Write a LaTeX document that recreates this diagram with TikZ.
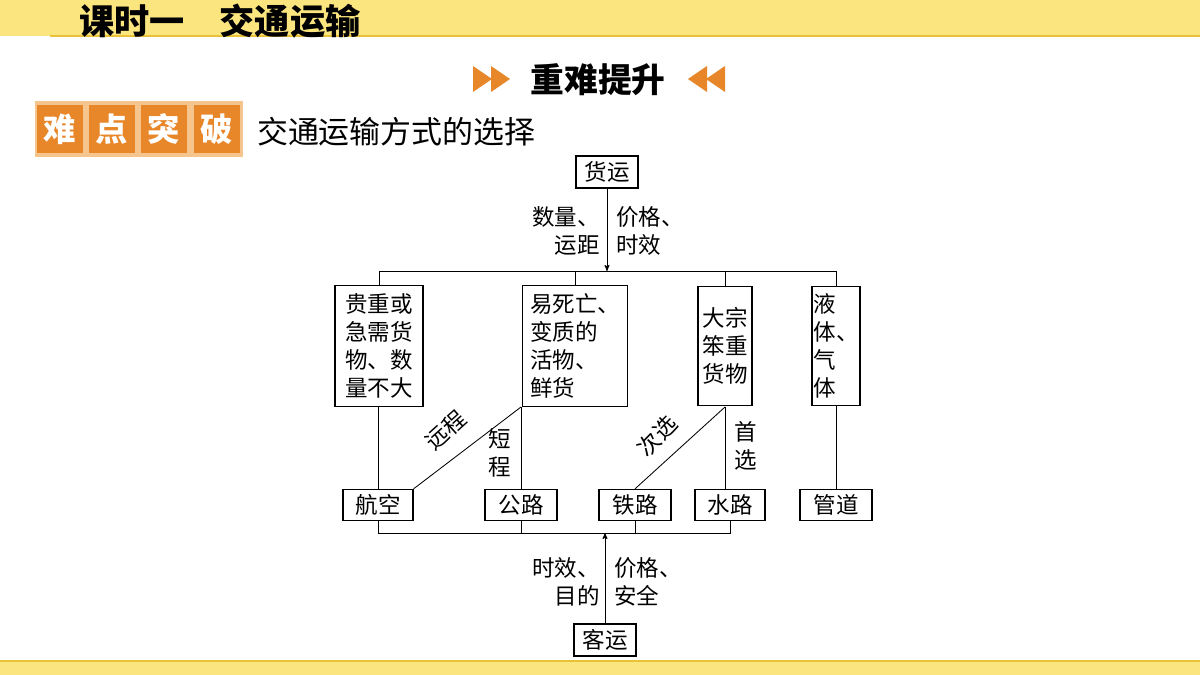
\documentclass[tikz,border=0pt]{standalone}
\usepackage{fontspec}
\setmainfont{Noto Sans CJK SC}
\usetikzlibrary{arrows}
\definecolor{bandyellow}{HTML}{FBE57F}
\definecolor{bandline}{HTML}{E9C23A}
\definecolor{badgeorange}{HTML}{E8862A}
\definecolor{badgelight}{HTML}{F6C58E}

\begin{document}
\begin{tikzpicture}[x=0.025cm,y=-0.025cm,>=stealth',semithick,
  box/.style={draw,thick,fill=white,inner sep=2pt,align=left,font=\fontsize{16}{20}\selectfont},
  lbl/.style={font=\fontsize{16}{20}\selectfont,inner sep=0pt},
  badge/.style={fill=badgeorange,minimum width=1.15cm,minimum height=1.2cm,text=white,font=\fontsize{23}{23}\selectfont\bfseries}]
\useasboundingbox (0,0) rectangle (1200,675);

% bands
\fill[bandyellow] (0,0) rectangle (1200,36);
\draw[bandline,thick] (50,36) -- (1200,36);
\fill[bandyellow] (0,661) rectangle (1200,675);
\draw[bandline,thick] (0,661) -- (1200,661);
\node[anchor=west,font=\fontsize{25}{25}\selectfont\bfseries] (title) at (74,21) {课时一\quad 交通运输};

% heading
\node[font=\fontsize{24}{24}\selectfont\bfseries] (head) at (598,80) {重难提升};
\fill[badgeorange] (473,66) -- (492,79) -- (473,92) -- cycle (491,66) -- (510,79) -- (491,92) -- cycle;
\fill[badgeorange] (725,66) -- (706,79) -- (725,92) -- cycle (707,66) -- (688,79) -- (707,92) -- cycle;

\fill[badgelight] (35,101) rectangle (243,157);
\node[badge] (n1) at (60,129) {难};
\node[badge] (n2) at (112,129) {点};
\node[badge] (n3) at (164,129) {突};
\node[badge] (n4) at (217,129) {破};
\node[anchor=west,font=\fontsize{22}{22}\selectfont] (topic) at (252,132) {交通运输方式的选择};

% goods
\node[box,minimum width=1.55cm,minimum height=0.8cm] (huo) at (607,172) {货运};
\coordinate (top) at (607,271);
\draw[->] (huo) -- (top);
\node[lbl,anchor=east,align=right] (l1) at (600,231) {数量、\\运距};
\node[lbl,anchor=west,align=left] (l2) at (616,231) {价格、\\时效};

\node[box,minimum width=2.2cm,minimum height=3.02cm] (b1) at (379,346) {贵重或\\急需货\\物、数\\量不大};
\node[box,minimum width=2.62cm,minimum height=3.02cm] (b2) at (575,346) {易死亡、\\变质的\\活物、\\鲜货};
\node[box,minimum width=1.35cm,minimum height=2.98cm] (b3) at (725,346) {大宗\\笨重\\货物};
\node[box,minimum width=1.2cm,minimum height=2.98cm,inner sep=1pt] (b4) at (836,346) {液\\体、\\气\\体};
\draw (b1.north) |- (b4.north |- top) -- (b4.north);
\draw (b2.north) -- (b2.north |- top);
\draw (b3.north) -- (b3.north |- top);

% modes
\node[box,minimum width=1.75cm,minimum height=0.78cm] (air) at (378,505) {航空};
\node[box,minimum width=1.8cm,minimum height=0.78cm] (road) at (521,505) {公路};
\node[box,minimum width=1.8cm,minimum height=0.78cm] (rail) at (635,505) {铁路};
\node[box,minimum width=1.75cm,minimum height=0.78cm] (water) at (730,505) {水路};
\node[box,minimum width=1.8cm,minimum height=0.78cm] (pipe) at (836,505) {管道};

\coordinate (c2) at (521,407);
\coordinate (c3) at (725,407);
\draw (b1.south -| air.north) -- (air.north);
\draw (c2) -- (air.north east);
\draw (c2) -- (c2 |- road.north);
\draw (c3) -- (rail.north);
\draw (c3) -- (c3 |- water.north);
\draw (b4.south) -- (pipe.north);
\node[lbl,rotate=42] (far) at (446,430) {远程};
\node[lbl,align=left] (near) at (500,453) {短\\程};
\node[lbl,rotate=46] (second) at (657,436) {次选};
\node[lbl,align=left] (first) at (746,446) {首\\选};

% passengers
\coordinate (bot) at (605,533);
\draw (air.south) |- (water.south |- bot) -- (water.south);
\draw (road.south) -- (road.south |- bot);
\draw (rail.south) -- (rail.south |- bot);
\node[box,minimum width=1.55cm,minimum height=0.8cm] (ke) at (605,640) {客运};
\draw[->] (ke) -- (bot);
\node[lbl,anchor=east,align=right] (l3) at (600,582) {时效、\\目的};
\node[lbl,anchor=west,align=left] (l4) at (614,582) {价格、\\安全};
\end{tikzpicture}
\end{document}
